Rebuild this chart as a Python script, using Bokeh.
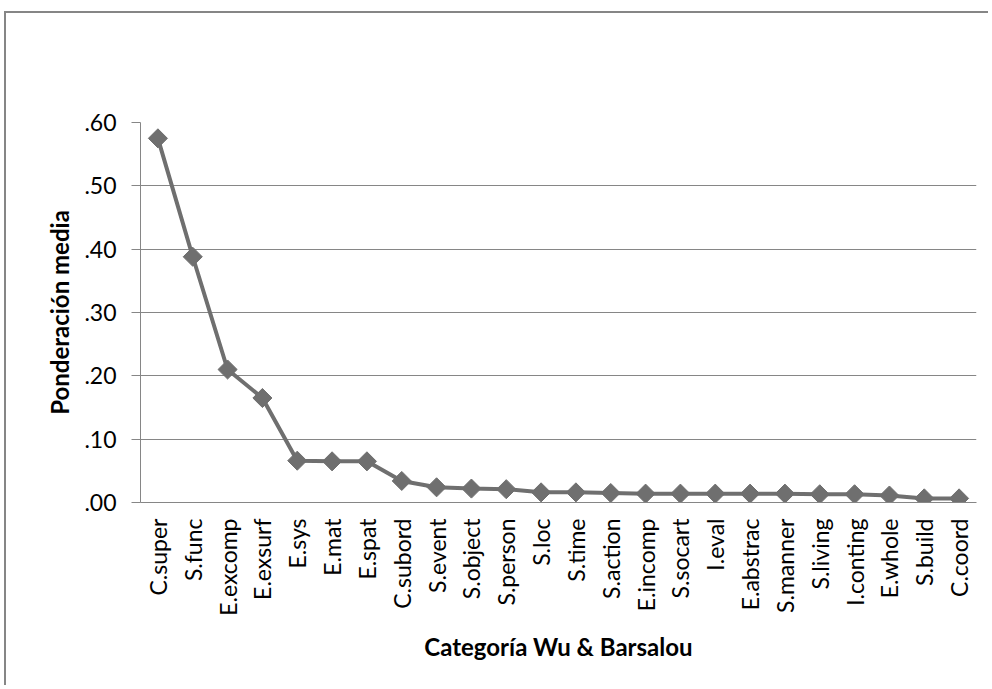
import numpy as np
from bokeh.plotting import figure
from bokeh.models import ColumnDataSource, FactorRange, Range1d, FixedTicker, CustomJSTickFormatter
from bokeh.embed import file_html
from bokeh.resources import INLINE

categories = ["C.super", "S.func", "E.excomp", "E.exsurf", "E.sys", "E.mat", "E.spat",
              "C.subord", "S.event", "S.object", "S.person", "S.loc", "S.time", "S.action",
              "E.incomp", "S.socart", "I.eval", "E.abstrac", "S.manner", "S.living",
              "I.conting", "E.whole", "S.build", "C.coord"]
values = [0.575, 0.388, 0.210, 0.165, 0.066, 0.065, 0.065,
          0.034, 0.024, 0.022, 0.021, 0.016, 0.016, 0.015,
          0.014, 0.014, 0.014, 0.014, 0.014, 0.013,
          0.013, 0.011, 0.0065, 0.0065]
y_ticks = [0.0, 0.1, 0.2, 0.3, 0.4, 0.5, 0.6]

GRAY = "#868686"
LINE = "#6f6f6f"
FONT = "Lato"

src = ColumnDataSource(dict(cat=categories, val=values))

p = figure(width=984, height=674, x_range=FactorRange(*categories, range_padding=0),
           y_range=Range1d(0, 0.6), output_backend="svg", toolbar_location=None,
           min_border_left=134, min_border_right=14, min_border_top=109, min_border_bottom=185)
p.styles = {"border-left": f"2px solid {GRAY}", "border-top": f"2px solid {GRAY}",
            "position": "relative", "left": "4px", "top": "11px"}
p.outline_line_color = None

p.line("cat", "val", source=src, line_color=LINE, line_width=4)
p.scatter("cat", "val", source=src, marker="square", angle=np.pi / 4, size=13.5,
          fill_color=LINE, line_color=LINE)

p.xgrid.grid_line_color = None
p.ygrid.grid_line_color = GRAY
p.ygrid.grid_line_width = 1
p.yaxis.ticker = FixedTicker(ticks=y_ticks)
p.yaxis.formatter = CustomJSTickFormatter(code="return tick.toFixed(2).replace(/^0/, '');")

for ax in (p.xaxis[0], p.yaxis[0]):
    ax.axis_line_color = GRAY
    ax.axis_line_width = 1
    ax.major_tick_line_color = GRAY
    ax.minor_tick_line_color = None
    ax.major_label_text_font = FONT
    ax.major_label_text_font_size = "23px"
    ax.major_label_text_color = "black"
    ax.axis_label_text_font = FONT
    ax.axis_label_text_font_size = "24px"
    ax.axis_label_text_font_style = "bold"
    ax.axis_label_text_color = "black"

p.yaxis.major_tick_out = 9
p.yaxis.major_tick_in = 0
p.yaxis.major_label_standoff = 15
p.yaxis.axis_label = "Ponderación media"
p.yaxis.axis_label_standoff = 7

p.xaxis.major_tick_out = 0
p.xaxis.major_tick_in = 0
p.xaxis.major_label_orientation = np.pi / 2
p.xaxis.major_label_standoff = 16
p.xaxis.axis_label = "Categoría Wu & Barsalou"
p.xaxis.axis_label_standoff = 13
p.xaxis.group_text_font_size = "0px"

open("out.html", "w").write(file_html(p, INLINE))
